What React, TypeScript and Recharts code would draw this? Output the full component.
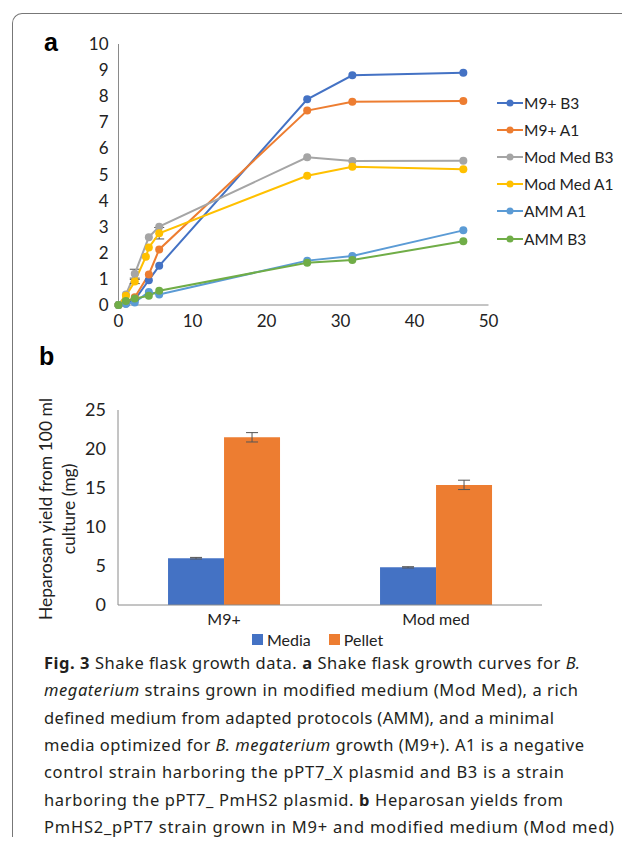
import React from 'react';
import {
  LineChart,
  Line,
  BarChart,
  Bar,
  XAxis,
  YAxis,
  ErrorBar,
  Label,
} from 'recharts';

// growth curves (panel a)
const hours = [0, 1, 2.2, 3.7, 4.1, 5.5, 25.5, 31.6, 46.6];
const m9B3 = [0, 0.05, 0.2, null, 0.95, 1.5, 7.88, 8.8, 8.9];
const m9A1 = [0, 0.1, 0.3, null, 1.17, 2.13, 7.45, 7.79, 7.82];
const modMedB3 = [0, 0.4, 1.2, null, 2.6, 3.0, 5.66, 5.52, 5.53];
const modMedA1 = [0, 0.35, 0.9, 1.85, 2.2, 2.75, 4.95, 5.3, 5.2];
const ammA1 = [0, 0.05, 0.1, null, 0.5, 0.4, 1.7, 1.88, 2.86];
const ammB3 = [0, 0.15, 0.25, null, 0.35, 0.55, 1.62, 1.72, 2.44];
const modMedB3Err = [null, null, 0.17, null, null, null, null, null, null];
const modMedA1Err = [null, null, 0.08, null, null, 0.22, null, null, null];
const yTicksA = [0, 1, 2, 3, 4, 5, 6, 7, 8, 9, 10];
const xTicksA = [0, 10, 20, 30, 40, 50];

// heparosan yields (panel b)
const media = ['M9+', 'Mod med'];
const mediaYield = [6.0, 4.83];
const pelletYield = [21.5, 15.4];
const mediaErr = [0.1, 0.08];
const pelletErr = [0.6, 0.6];
const yTicksB = [0, 5, 10, 15, 20, 25];

const growthData = hours.map((t, i) => ({
  t,
  m9B3: m9B3[i],
  m9A1: m9A1[i],
  modMedB3: modMedB3[i],
  modMedA1: modMedA1[i],
  ammA1: ammA1[i],
  ammB3: ammB3[i],
  modMedB3Err: modMedB3Err[i],
  modMedA1Err: modMedA1Err[i],
}));

const yieldData = media.map((name, i) => ({
  name,
  Media: mediaYield[i],
  Pellet: pelletYield[i],
  mediaErr: mediaErr[i],
  pelletErr: pelletErr[i],
}));

const SERIES = [
  { key: 'm9B3', name: 'M9+ B3', color: '#4472C4' },
  { key: 'm9A1', name: 'M9+ A1', color: '#ED7D31' },
  { key: 'modMedB3', name: 'Mod Med B3', color: '#A5A5A5', err: 'modMedB3Err' },
  { key: 'modMedA1', name: 'Mod Med A1', color: '#FFC000', err: 'modMedA1Err' },
  { key: 'ammA1', name: 'AMM A1', color: '#5B9BD5' },
  { key: 'ammB3', name: 'AMM B3', color: '#70AD47' },
];
const BARS = [
  { key: 'Media', color: '#4472C4', err: 'mediaErr' },
  { key: 'Pellet', color: '#ED7D31', err: 'pelletErr' },
];

const AXIS = '#8a8a8a';
const FONT = 'Lato, "Noto Sans", sans-serif';
const tickStyle = { fill: '#222', fontSize: 17, fontFamily: FONT };

const YieldAxisLabel = () => (
  <g fontFamily={FONT} fontSize={17.5} fill="#222" textAnchor="middle">
    <text x={45} y={129} transform="rotate(-90 45 129)" dominantBaseline="central">
      Heparosan yield from 100 ml
    </text>
    <text x={68} y={129} transform="rotate(-90 68 129)" dominantBaseline="central">
      culture (mg)
    </text>
  </g>
);

const CAPTION_FONT = '"Noto Sans", "Open Sans", sans-serif';
const captionLines: { parts: { t: string; b?: boolean; i?: boolean }[]; w: number }[] = [
  {
    parts: [
      { t: 'Fig. 3', b: true },
      { t: '  Shake flask growth data. ' },
      { t: 'a', b: true },
      { t: ' Shake flask growth curves for ' },
      { t: 'B.', i: true },
    ],
    w: 536,
  },
  {
    parts: [
      { t: 'megaterium', i: true },
      { t: ' strains grown in modified medium (Mod Med), a rich' },
    ],
    w: 534,
  },
  { parts: [{ t: 'defined medium from adapted protocols (AMM), and a minimal' }], w: 510 },
  {
    parts: [
      { t: 'media optimized for ' },
      { t: 'B. megaterium', i: true },
      { t: ' growth (M9+). A1 is a negative' },
    ],
    w: 540,
  },
  { parts: [{ t: 'control strain harboring the pPT7_X plasmid and B3 is a strain' }], w: 520 },
  {
    parts: [
      { t: 'harboring the pPT7_ PmHS2 plasmid. ' },
      { t: 'b', b: true },
      { t: ' Heparosan yields from' },
    ],
    w: 519,
  },
  { parts: [{ t: 'PmHS2_pPT7 strain grown in M9+ and modified medium (Mod med)' }], w: 570 },
];

const App: React.FC = () => {
  return (
    <div style={{ position: 'relative', width: 622, height: 843, background: '#fff', overflow: 'hidden' }}>
      <style>{`body{margin:0}`}</style>
      {/* figure frame */}
      <div
        style={{
          position: 'absolute',
          left: 12,
          top: 13,
          width: 630,
          height: 823,
          borderTop: '1.5px solid #777',
          borderLeft: '1.5px solid #777',
          borderTopLeftRadius: 10,
        }}
      />
      <div style={{ position: 'absolute', left: 44, top: 28, fontFamily: 'Arial, "Liberation Sans"', fontWeight: 'bold', fontSize: 25 }}>a</div>
      <div style={{ position: 'absolute', left: 39, top: 342, fontFamily: 'Arial, "Liberation Sans"', fontWeight: 'bold', fontSize: 25 }}>b</div>

      {/* panel a */}
      <div style={{ position: 'absolute', left: 0, top: 0 }}>
        <LineChart width={622} height={345} data={growthData} margin={{ top: 44, right: 133.5, bottom: 10, left: 88.5 }}>
          <XAxis
            type="number"
            dataKey="t"
            domain={[0, 50]}
            ticks={xTicksA}
            interval={0}
            stroke={AXIS}
            tickLine={false}
            tick={tickStyle}
            tickMargin={4}
            height={30}
          />
          <YAxis
            type="number"
            domain={[0, 10]}
            ticks={yTicksA}
            interval={0}
            stroke={AXIS}
            tickLine={false}
            tick={tickStyle}
            tickMargin={4}
            width={30}
          />
          {SERIES.map((s) => (
            <Line
              key={s.key}
              dataKey={s.key}
              name={s.name}
              stroke={s.color}
              strokeWidth={2}
              dot={{ r: 4, fill: s.color, stroke: s.color, strokeWidth: 0 }}
              connectNulls
              isAnimationActive={false}
            >
              {s.err && <ErrorBar dataKey={s.err} direction="y" width={5} stroke="#555" strokeWidth={1} />}
            </Line>
          ))}
        </LineChart>
      </div>
      {/* legend a */}
      <div style={{ position: 'absolute', left: 497, top: 89, fontFamily: FONT, fontSize: 15.5, color: '#222' }}>
        {SERIES.map((s) => (
          <div key={s.key} style={{ display: 'flex', alignItems: 'center', height: 27.2 }}>
            <svg width={26} height={10} style={{ marginRight: 1 }}>
              <line x1={0} y1={5} x2={26} y2={5} stroke={s.color} strokeWidth={2} />
              <circle cx={13} cy={5} r={3.5} fill={s.color} />
            </svg>
            <span>{s.name}</span>
          </div>
        ))}
      </div>

      {/* panel b */}
      <div style={{ position: 'absolute', left: 0, top: 380 }}>
        <BarChart
          width={622}
          height={270}
          data={yieldData}
          margin={{ top: 30, right: 80, bottom: 15, left: 88 }}
          barGap={0}
          barCategoryGap="23.6%"
        >
          <XAxis dataKey="name" stroke={AXIS} tickLine={false} tick={{ ...tickStyle, fontSize: 16 }} tickMargin={3} height={30} />
          <YAxis
            type="number"
            domain={[0, 25]}
            ticks={yTicksB}
            interval={0}
            stroke={AXIS}
            tickLine={false}
            tick={{ ...tickStyle, fontSize: 18 }}
            tickMargin={6}
            width={30}
          >
            <Label content={<YieldAxisLabel />} />
          </YAxis>
          {BARS.map((b) => (
            <Bar key={b.key} dataKey={b.key} fill={b.color} isAnimationActive={false}>
              <ErrorBar dataKey={b.err} direction="y" width={6} stroke="#555" strokeWidth={1} />
            </Bar>
          ))}
        </BarChart>
      </div>
      {/* legend b */}
      <div style={{ position: 'absolute', left: 252, top: 630, display: 'flex', fontFamily: FONT, fontSize: 16, color: '#222' }}>
        {BARS.map((b) => (
          <div key={b.key} style={{ display: 'flex', alignItems: 'center', marginRight: 18 }}>
            <div style={{ width: 11, height: 11, background: b.color, marginRight: 4 }} />
            <span>{b.key}</span>
          </div>
        ))}
      </div>

      {/* caption */}
      <svg width={622} height={200} style={{ position: 'absolute', left: 0, top: 645 }}>
        {captionLines.map((line, i) => (
          <text
            key={i}
            x={44}
            y={24 + i * 27.3}
            textLength={line.w}
            lengthAdjust="spacing"
            fontFamily={CAPTION_FONT}
            fontSize={16.5}
            fill="#231f20"
          >
            {line.parts.map((p, j) => (
              <tspan key={j} fontWeight={p.b ? 'bold' : 'normal'} fontStyle={p.i ? 'italic' : 'normal'}>
                {p.t}
              </tspan>
            ))}
          </text>
        ))}
      </svg>
    </div>
  );
};

export default App;
